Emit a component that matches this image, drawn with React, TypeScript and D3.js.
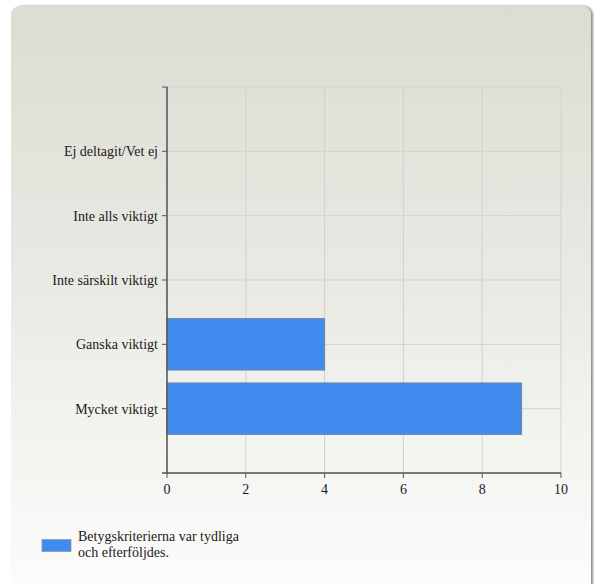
import React from "react";
import * as d3 from "d3";

const categories = [
  "Mycket viktigt",
  "Ganska viktigt",
  "Inte särskilt viktigt",
  "Inte alls viktigt",
  "Ej deltagit/Vet ej",
];
const values = [9, 4, 0, 0, 0];
const xTicks = [0, 2, 4, 6, 8, 10];
const seriesName = ["Betygskriterierna var tydliga", "och efterföljdes."];

const W = 594;
const H = 584;
const left = 167;
const right = 561;
const top = 87;
const bottom = 473;

export default function App() {
  const x = d3.scaleLinear().domain([0, 10]).range([left, right]);
  const y = d3.scaleLinear().domain([0, categories.length + 1]).range([bottom, top]);
  const band = y(0) - y(1);
  const barH = band * 0.8;
  const gridY = d3.range(0, categories.length + 2);
  const font = "'Liberation Serif', 'Times New Roman', serif";

  return (
    <svg
      width={W}
      height={H}
      style={{ position: "absolute", left: 0, top: 0, display: "block" }}
    >
      <defs>
        <linearGradient id="bg" x1="0" y1="0" x2="0" y2="1">
          <stop offset="0" stopColor="#dcdcd3" />
          <stop offset="0.5" stopColor="#ebebe6" />
          <stop offset="0.85" stopColor="#f8f8f6" />
          <stop offset="1" stopColor="#fdfdfc" />
        </linearGradient>
        <filter id="sh" x="-5%" y="-5%" width="110%" height="110%">
          <feGaussianBlur in="SourceAlpha" stdDeviation="1.2" />
          <feOffset dx="1.5" dy="0" result="b" />
          <feComponentTransfer>
            <feFuncA type="linear" slope="0.45" />
          </feComponentTransfer>
          <feMerge>
            <feMergeNode />
            <feMergeNode in="SourceGraphic" />
          </feMerge>
        </filter>
      </defs>
      <rect x={0} y={0} width={W} height={H} fill="#ffffff" />
      <rect
        x={11}
        y={6}
        width={580}
        height={H + 20}
        rx={9}
        ry={9}
        fill="url(#bg)"
        filter="url(#sh)"
      />
      {xTicks.map((t) => (
        <line
          key={"vx" + t}
          x1={x(t)}
          x2={x(t)}
          y1={top}
          y2={bottom}
          stroke="#d2d2cd"
          strokeWidth={1}
        />
      ))}
      {gridY.map((g) => (
        <line
          key={"hy" + g}
          x1={left}
          x2={right}
          y1={y(g)}
          y2={y(g)}
          stroke="#d2d2cd"
          strokeWidth={1}
        />
      ))}
      {categories.map((c, i) =>
        values[i] > 0 ? (
          <rect
            key={"bar" + c}
            x={x(0)}
            y={y(i + 1) - barH / 2}
            width={x(values[i]) - x(0)}
            height={barH}
            fill="#418bee"
            stroke="#6f87a6"
            strokeWidth={1}
          />
        ) : null
      )}
      <line x1={left} x2={left} y1={top} y2={bottom} stroke="#555" strokeWidth={1.5} />
      {gridY.slice(1).map((g) => (
        <line
          key={"yt" + g}
          x1={left - 5}
          x2={left}
          y1={y(g)}
          y2={y(g)}
          stroke="#555"
          strokeWidth={1}
        />
      ))}
      {categories.map((c, i) => (
        <text
          key={"yl" + c}
          x={left - 9}
          y={y(i + 1)}
          dy="0.35em"
          textAnchor="end"
          fontFamily={font}
          fontSize={14}
          fill="#1a1a1a"
        >
          {c}
        </text>
      ))}
      <line x1={left - 5} x2={right} y1={bottom} y2={bottom} stroke="#555" strokeWidth={1.5} />
      {xTicks.map((t) => (
        <g key={"xt" + t}>
          <line x1={x(t)} x2={x(t)} y1={bottom} y2={bottom + 5} stroke="#555" strokeWidth={1} />
          <text
            x={x(t)}
            y={bottom + 16}
            dy="0.35em"
            textAnchor="middle"
            fontFamily={font}
            fontSize={14}
            fill="#1a1a1a"
          >
            {t}
          </text>
        </g>
      ))}
      <rect x={42} y={539.5} width={29} height={12} fill="#418bee" stroke="#8a9bb0" strokeWidth={0.8} />
      {seriesName.map((s, i) => (
        <text
          key={"lg" + i}
          x={78}
          y={536 + i * 16}
          dy="0.35em"
          fontFamily={font}
          fontSize={14}
          fill="#1a1a1a"
        >
          {s}
        </text>
      ))}
    </svg>
  );
}
